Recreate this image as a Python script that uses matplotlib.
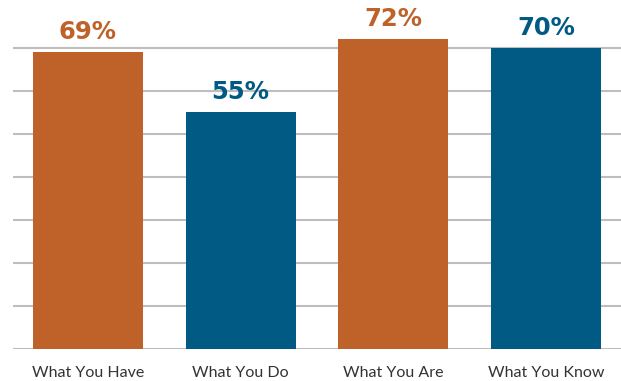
import matplotlib.pyplot as plt
import numpy as np

# Дані
categories = ['What You Have', 'What You Do', 'What You Are', 'What You Know']
values = [69, 55, 72, 70]
colors = ['#BE622A', '#005A84', '#BE622A', '#005A84']

fig = plt.figure(figsize=(6.21, 3.81), dpi=100)
ax = fig.add_axes([0.021, 0.084, 0.979, 0.903])

x = np.arange(len(categories))
ax.bar(x, values, width=0.72, color=colors, zorder=2)

# Підписи значень
for xi, v, c in zip(x, values, colors):
    ax.annotate(f'{v}%', (xi, v), xytext=(0, 6), textcoords='offset points',
                ha='center', va='bottom', fontsize=17.5, fontweight='bold',
                color=c, family='DejaVu Sans')

ax.set_xlim(-0.49, 3.49)
ax.set_ylim(0, 80)
ax.set_yticks(np.arange(0, 71, 10))
ax.yaxis.grid(True, color='#BEBEBE', linewidth=1.5, zorder=0)
ax.set_axisbelow(True)
ax.tick_params(axis='y', left=False, labelleft=False)
ax.tick_params(axis='x', length=0, pad=12)
ax.set_xticks(x)
ax.set_xticklabels(categories, fontsize=11.5, color='#333333', family='Lato')
for s in ax.spines.values():
    s.set_visible(False)

fig.savefig('out.png', dpi=100)
